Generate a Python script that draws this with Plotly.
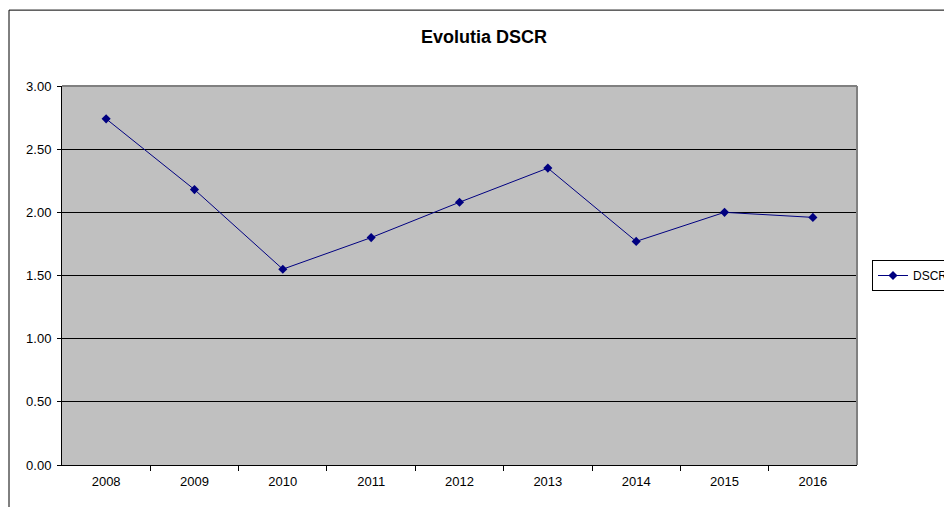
import plotly.graph_objects as go

# DSCR by year
years = ["2008", "2009", "2010", "2011", "2012", "2013", "2014", "2015", "2016"]
dscr = [2.74, 2.18, 1.55, 1.80, 2.08, 2.35, 1.77, 2.00, 1.96]
y_ticks = [0.0, 0.5, 1.0, 1.5, 2.0, 2.5, 3.0]

NAVY = "#000080"
FONT = "Arial, Liberation Sans, sans-serif"

fig = go.Figure()
fig.add_trace(go.Scatter(
    x=years, y=dscr, name="DSCR", mode="lines+markers",
    line=dict(color=NAVY, width=1),
    marker=dict(symbol="diamond", size=7, color=NAVY),
))

fig.update_layout(
    width=944, height=507,
    margin=dict(l=62, r=87, t=86, b=42, autoexpand=False),
    paper_bgcolor="white",
    plot_bgcolor="#C0C0C0",
    font=dict(family=FONT, size=13, color="black"),
    title=dict(text="<b>Evolutia DSCR</b>", x=484 / 944, xanchor="center",
               y=1 - 37 / 507, yanchor="middle", yref="container",
               font=dict(family=FONT, size=18, color="black")),
    showlegend=True,
    legend=dict(x=(872 - 62) / 795, xanchor="left", y=0.5, yanchor="middle",
                bgcolor="white", bordercolor="black", borderwidth=1,
                font=dict(family=FONT, size=12, color="black"),
                itemwidth=30, tracegroupgap=0),
    xaxis=dict(
        type="category", showgrid=False, showline=True, linecolor="black",
        linewidth=1, ticks="outside", tickson="boundaries", ticklen=5,
        tickcolor="black", mirror=False, zeroline=False,
        ticklabelstandoff=4,
    ),
    yaxis=dict(
        range=[0, 3], tickvals=y_ticks, tickformat=".2f",
        showgrid=True, gridcolor="black", gridwidth=1,
        showline=True, linecolor="black", linewidth=1,
        ticks="outside", ticklen=4, tickcolor="black", zeroline=False,
        ticklabelstandoff=3,
    ),
    shapes=[
        # outer chart frame
        dict(type="rect", xref="paper", yref="paper",
             x0=(9 - 62) / 795, x1=1.2, y0=-0.3, y1=1 + (86 - 10) / 379.6,
             line=dict(color="black", width=1), fillcolor="rgba(0,0,0,0)",
             layer="below"),
        # plot area edge shading on top and right
        dict(type="line", xref="paper", yref="paper", x0=0, x1=1, y0=1, y1=1,
             line=dict(color="#808080", width=2)),
        dict(type="line", xref="paper", yref="paper", x0=1, x1=1, y0=0, y1=1,
             line=dict(color="#808080", width=2)),
    ],
)

fig.write_html("out.html")
